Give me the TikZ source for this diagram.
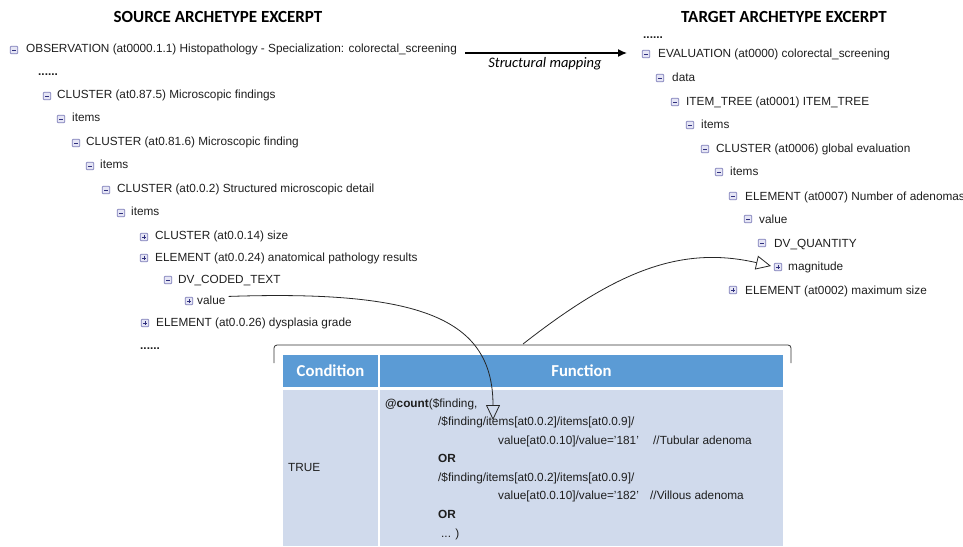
\documentclass[tikz,border=0pt]{standalone}
\usepackage{fontspec}
\setmainfont{Liberation Sans}
\newfontfamily\headfont{Carlito}
\usetikzlibrary{arrows.meta}
\definecolor{txt}{HTML}{1E1E1E}
\definecolor{hdrblue}{HTML}{5B9BD5}
\definecolor{bodyblue}{HTML}{D0DAEC}
\definecolor{iconfill}{HTML}{E6E6F5}
\definecolor{iconline}{HTML}{7E7EBA}
\definecolor{iconsign}{HTML}{30307E}
\tikzset{
  tree/.style={anchor=mid west, inner sep=0pt, font=\fontsize{11.8}{14}\selectfont, text=txt},
  fn/.style={anchor=mid west, inner sep=0pt, font=\fontsize{11.8}{14}\selectfont, text=txt},
  heading/.style={inner sep=0pt, font=\headfont\bfseries\fontsize{17}{20}\selectfont, text=black},
  hdrtext/.style={inner sep=0pt, font=\headfont\bfseries\fontsize{16.7}{19}\selectfont, text=white},
  minusbox/.pic={\draw[iconline, fill=iconfill, rounded corners=1pt, line width=0.7pt] (-3.8,-3.8) rectangle (3.8,3.8);
                 \draw[iconsign, line width=0.9pt] (-2.2,0) -- (2.2,0);},
  plusbox/.pic={\draw[iconline, fill=iconfill, rounded corners=1pt, line width=0.7pt] (-3.8,-3.8) rectangle (3.8,3.8);
                 \draw[iconsign, line width=0.9pt] (-2.2,0) -- (2.2,0) (0,-2.2) -- (0,2.2);},
  link/.style={draw=black!85, line width=0.8pt, -{Triangle[open, length=15pt, width=14pt]}},
}
\begin{document}
\begin{tikzpicture}[x=1pt,y=-1pt]
\useasboundingbox (0,0) rectangle (963,546);
% headings
\node[heading] (srchead) at (218,17) {SOURCE ARCHETYPE EXCERPT};
\node[heading] (tgthead) at (784,17) {TARGET ARCHETYPE EXCERPT};
% source tree
\pic at (14,50) {minusbox};
\node[tree] (s1) at (26,50) {OBSERVATION (at0000.1.1) Histopathology - Specialization: colorectal\_screening};
\node[tree] (s2) at (38,73) {\textbf{......}};
\pic at (47,96) {minusbox};
\node[tree] (s3) at (57,96) {CLUSTER (at0.87.5) Microscopic findings};
\pic at (61,119) {minusbox};
\node[tree] (s4) at (72,119) {items};
\pic at (76,143) {minusbox};
\node[tree] (s5) at (86,143) {CLUSTER (at0.81.6) Microscopic finding};
\pic at (90,166) {minusbox};
\node[tree] (s6) at (100,166) {items};
\pic at (106,190) {minusbox};
\node[tree] (s7) at (117,190) {CLUSTER (at0.0.2) Structured microscopic detail};
\pic at (121,213) {minusbox};
\node[tree] (s8) at (131,213) {items};
\pic at (144,237) {plusbox};
\node[tree] (s9) at (155,237) {CLUSTER (at0.0.14) size};
\pic at (144,258) {plusbox};
\node[tree] (s10) at (155,259) {ELEMENT (at0.0.24) anatomical pathology results};
\pic at (168,280) {minusbox};
\node[tree] (s11) at (178,281) {DV\_CODED\_TEXT};
\pic at (189,301) {plusbox};
\node[tree] (s12) at (197,302) {value};
\pic at (145,323) {plusbox};
\node[tree] (s13) at (156,324) {ELEMENT (at0.0.26) dysplasia grade};
\node[tree] (s14) at (140,347) {\textbf{......}};
% target tree
\node[tree] (t0) at (643,36) {\textbf{......}};
\pic at (646,54) {minusbox};
\node[tree] (t1) at (658,55) {EVALUATION (at0000) colorectal\_screening};
\pic at (660,78) {minusbox};
\node[tree] (t2) at (672,79) {data};
\pic at (675,102) {minusbox};
\node[tree] (t3) at (686,103) {ITEM\_TREE (at0001) ITEM\_TREE};
\pic at (690,125) {minusbox};
\node[tree] (t4) at (701,126) {items};
\pic at (705,149) {minusbox};
\node[tree] (t5) at (716,150) {CLUSTER (at0006) global evaluation};
\pic at (719,172) {minusbox};
\node[tree] (t6) at (730,173) {items};
\pic at (733,196) {minusbox};
\node[tree] (t7) at (745,198) {ELEMENT (at0007) Number of adenomas};
\pic at (748,219) {minusbox};
\node[tree] (t8) at (759,221) {value};
\pic at (762,243) {minusbox};
\node[tree] (t9) at (774,245) {DV\_QUANTITY};
\pic at (778,267) {plusbox};
\node[tree] (t10) at (788,268) {magnitude};
\pic at (733,290) {plusbox};
\node[tree] (t11) at (745,292) {ELEMENT (at0002) maximum size};
% structural mapping arrow
\coordinate (mapstart) at (465,53);
\coordinate (mapend) at (627,53);
\draw[line width=1.4pt, -{Latex[length=9pt, width=8pt]}] (mapstart) -- (mapend);
\node[inner sep=0pt, font=\headfont\itshape\fontsize{14.5}{17}\selectfont] (maplabel) at (545,64) {Structural mapping};
% bracket
\draw[line width=0.8pt, draw=black!80, rounded corners=3pt] (274,363) -- (274,345) -- (791,345) -- (791,363);
% table
\fill[hdrblue] (283,355) rectangle (378,387);
\fill[hdrblue] (380,355) rectangle (783,387);
\fill[bodyblue] (283,390) rectangle (378,546);
\fill[bodyblue] (380,390) rectangle (783,546);
\node[hdrtext] (hcond) at (330.5,371) {Condition};
\node[hdrtext] (hfunc) at (581.5,371) {Function};
\node[fn] (ctrue) at (288,469) {TRUE};
\node[fn] (f1) at (385,405) {\textbf{@count}(\$finding,};
\node[fn] (f2) at (438,423) {/\$finding/items[at0.0.2]/items[at0.0.9]/};
\node[fn] (f3) at (498,442) {value[at0.0.10]/value='181'};
\node[fn] (f3c) at (653,442) {//Tubular adenoma};
\node[fn] (f4) at (438,460) {\textbf{OR}};
\node[fn] (f5) at (438,479) {/\$finding/items[at0.0.2]/items[at0.0.9]/};
\node[fn] (f6) at (498,497) {value[at0.0.10]/value='182'};
\node[fn] (f6c) at (650,497) {//Villous adenoma};
\node[fn] (f7) at (438,516) {\textbf{OR}};
\node[fn] (f8) at (441,535) {... )};
% links
\coordinate (intable) at (493,420);
\coordinate (fromtable) at (523,344);
\coordinate (tomag) at (771,266);
\draw[link] (s12.east) ++(3,-4) .. controls (420,290) and (493,318) .. (intable);
\draw[link] (fromtable) .. controls (615,272) and (680,245) .. (tomag);
\end{tikzpicture}
\end{document}
